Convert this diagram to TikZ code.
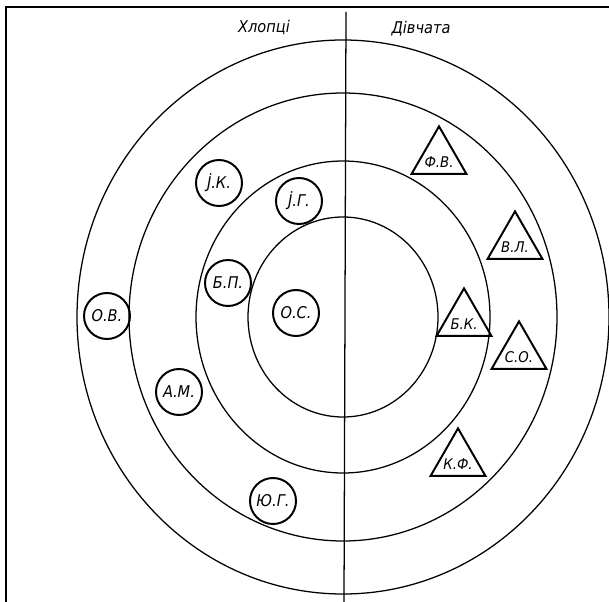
\documentclass[tikz,border=0pt]{standalone}
\usepackage{fontspec}
\setmainfont{DejaVu Sans Condensed}
\usetikzlibrary{shapes.geometric, positioning}

\begin{document}
\begin{tikzpicture}[
    x=0.025cm, y=-0.025cm,
    every node/.style={font=\fontsize{11.5}{13}\selectfont\itshape},
    ring/.style={line width=0.9pt},
    boy/.style={draw, circle, line width=1.4pt, minimum size=1.15cm, inner sep=0pt},
    girl/.style={draw, regular polygon, regular polygon sides=3, line width=1.4pt,
        minimum size=1.58cm, inner sep=0pt,
        label={[yshift=-3pt, font=\fontsize{10.5}{12}\selectfont\itshape]center:#1}}
]
    \useasboundingbox (0,0) rectangle (609,602);
    % frame and divider
    \draw[line width=1.6pt] (6,602) -- (6,7) -- (609,7);
    \coordinate (top) at (346,12);
    \coordinate (bottom) at (344,602);
    \draw[ring] (top) -- (bottom);

    % rings
    \coordinate (centre) at (343,317);
    \draw[ring] (centre) ellipse [x radius=266, y radius=277];
    \draw[ring] (centre) ellipse [x radius=214, y radius=224];
    \draw[ring] (centre) ellipse [x radius=147, y radius=156];
    \draw[ring] (centre) ellipse [x radius=95, y radius=100];

    % headings
    \node (boys) at (264,27) {Хлопці};
    \node (girls) at (421,29) {Дівчата};

    % boys
    \node[boy] (os) at (296,313) {О.С.};
    \node[boy] (bp) at (228,283) {Б.П.};
    \node[boy] (jg) at (299,201) {\.{J}.Г.};
    \node[boy] (jk) at (219,183) {\.{J}.К.};
    \node[boy] (am) at (179,392) {А.М.};
    \node[boy] (ov) at (107,316) {О.В.};
    \node[boy] (jug) at (273,501) {Ю.Г.};

    % girls
    \node[girl=Б.К.] (bk) at (464,320) {};
    \node[girl=Ф.В.] (fv) at (439,158) {};
    \node[girl=В.Л.] (vl) at (515,243) {};
    \node[girl=С.О.] (so) at (519,353) {};
    \node[girl=К.Ф.] (kf) at (458,460) {};
\end{tikzpicture}
\end{document}
